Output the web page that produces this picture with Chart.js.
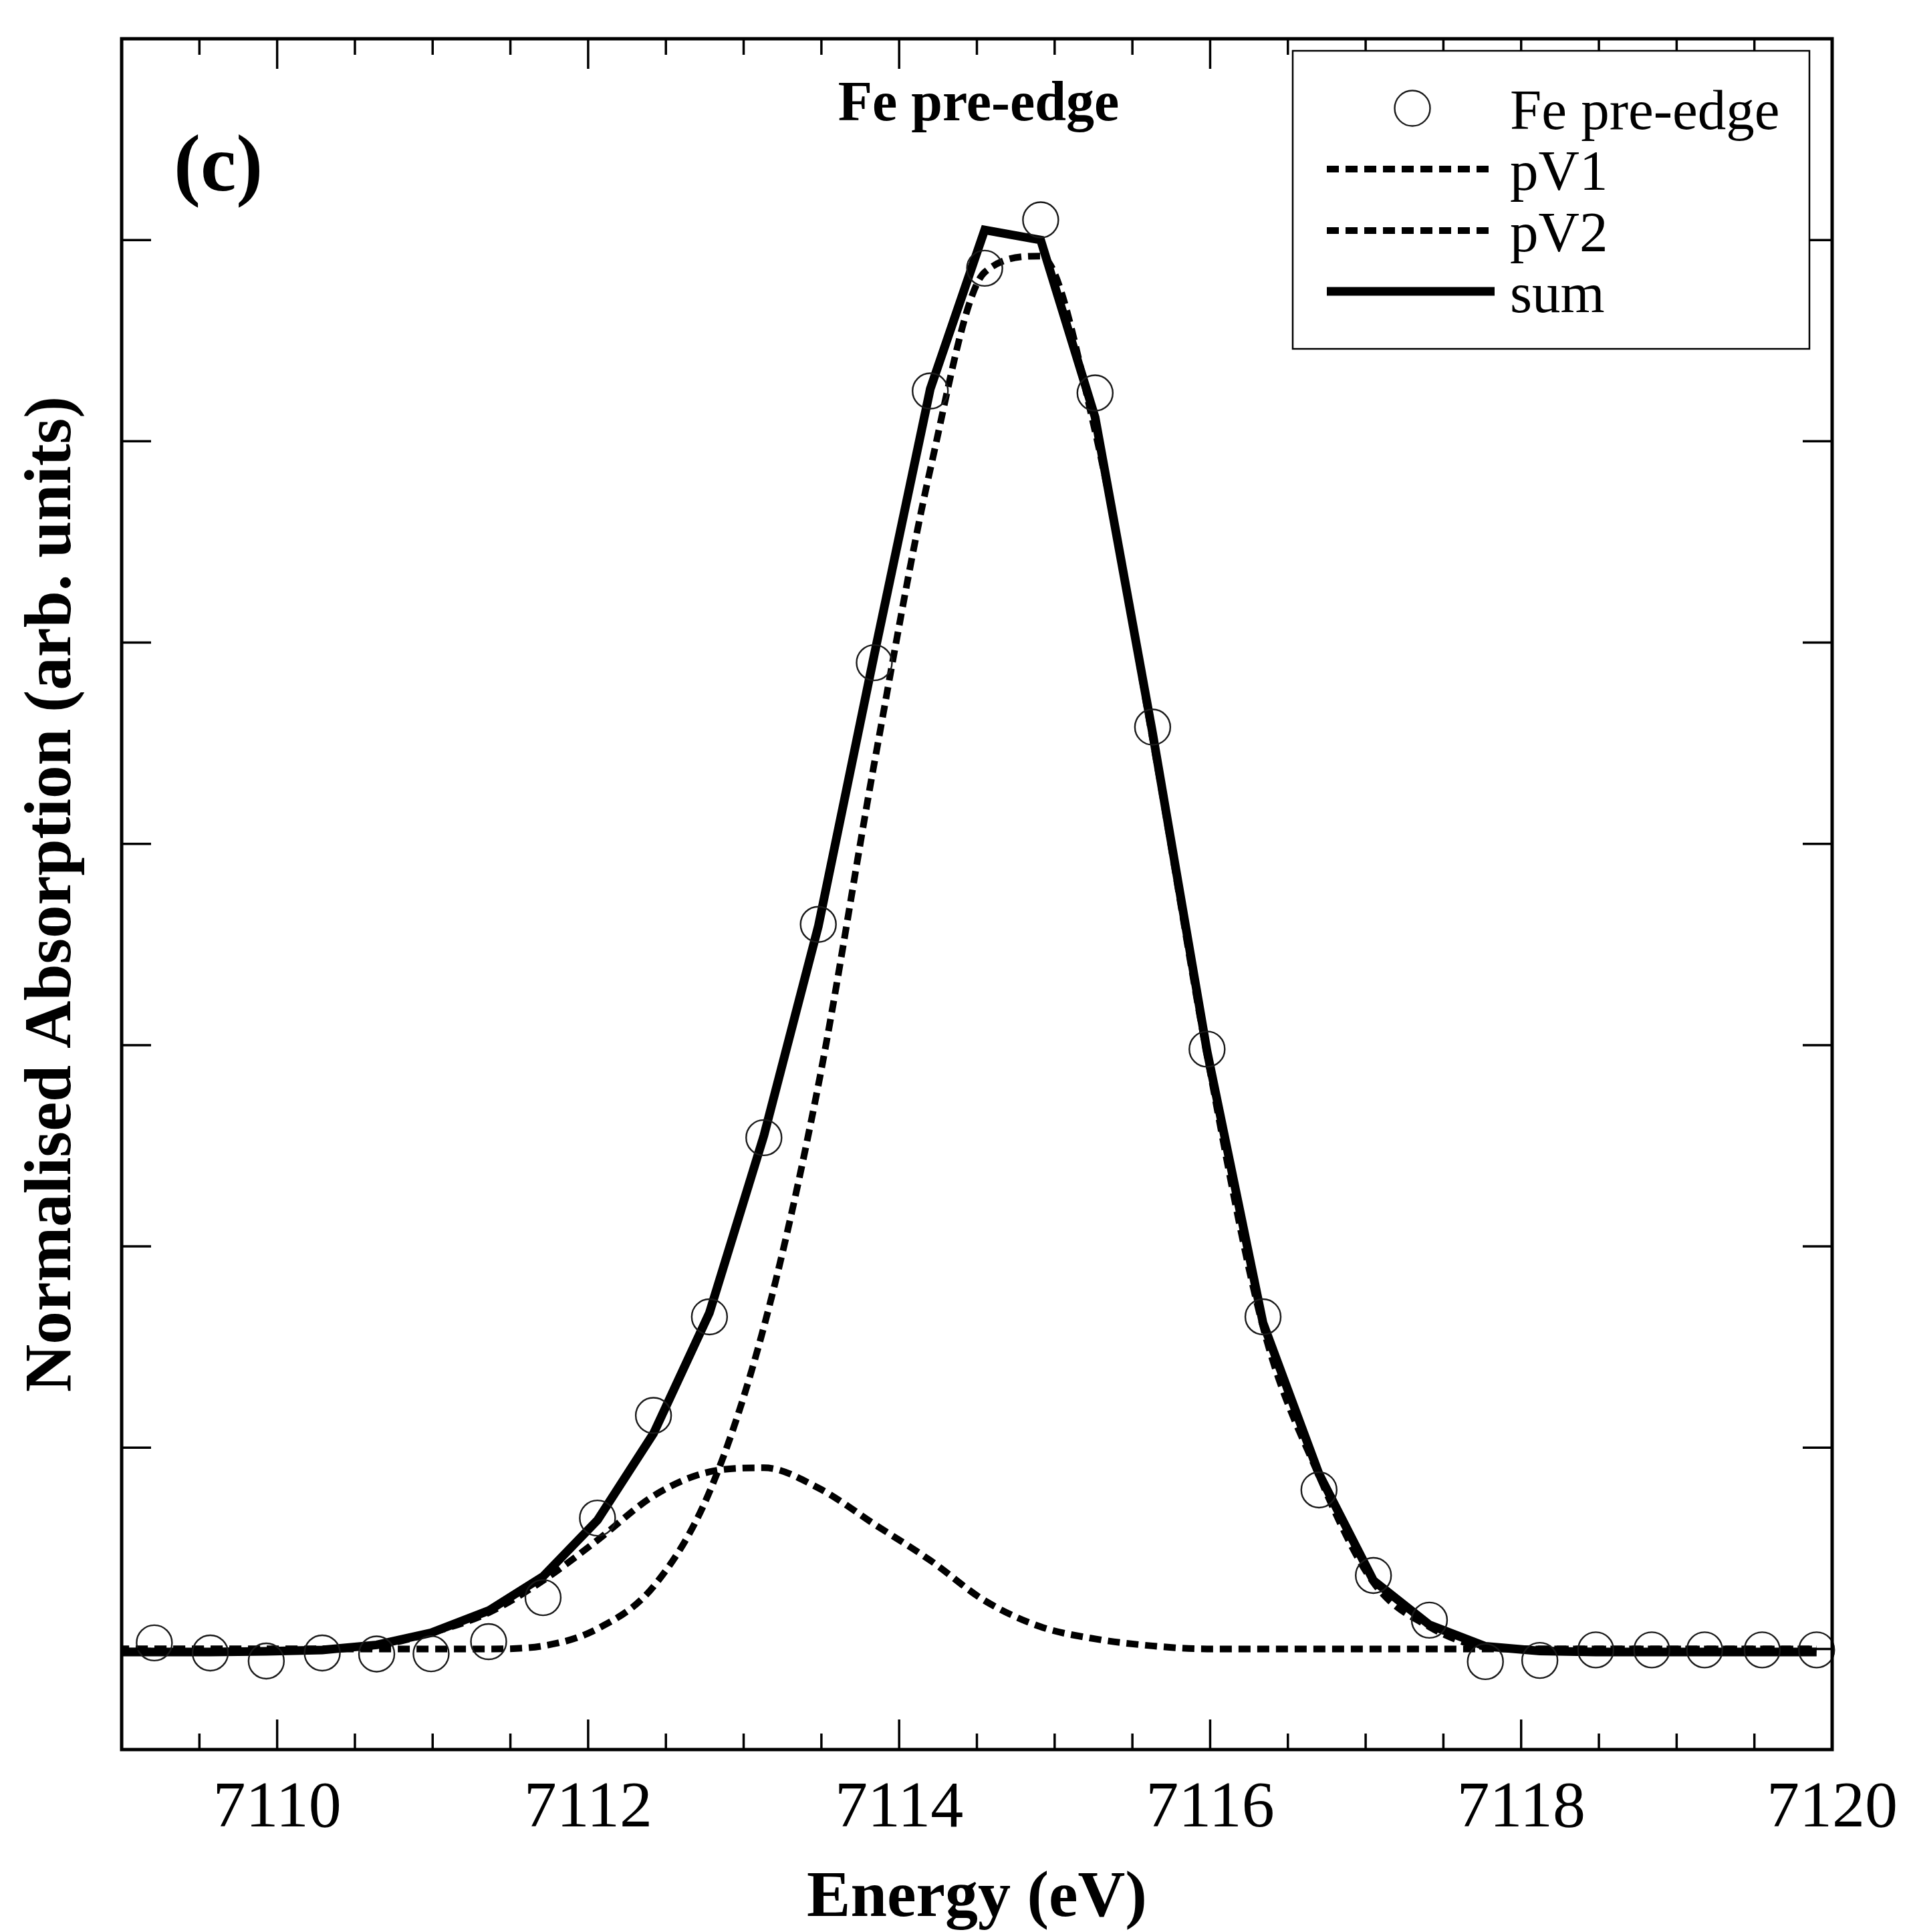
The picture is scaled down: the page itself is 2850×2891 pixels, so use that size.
<!DOCTYPE html>
<html>
<head>
<meta charset="utf-8">
<style>
html,body{margin:0;padding:0;background:#fff;overflow:hidden}
canvas{display:block}
</style>
<script src="https://cdn.jsdelivr.net/npm/chart.js"></script>
</head>
<body>
<canvas id="chart" width="2850" height="2891"></canvas>
<script>
// ---------------- data ----------------
const energy = [7109.21, 7109.57, 7109.93, 7110.29, 7110.64, 7110.99, 7111.36, 7111.71,
  7112.06, 7112.42, 7112.78, 7113.13, 7113.48, 7113.84, 7114.20, 7114.55, 7114.91,
  7115.26, 7115.63, 7115.98, 7116.34, 7116.70, 7117.05, 7117.41, 7117.77, 7118.12,
  7118.48, 7118.84, 7119.18, 7119.55, 7119.90];
const feData = [0.03, -0.02, -0.06, -0.02, -0.025, -0.024, 0.036, 0.255,
  0.65, 1.16, 1.65, 2.54, 3.60, 4.90, 6.25, 6.86, 7.10,
  6.24, 4.58, 2.98, 1.65, 0.79, 0.365, 0.143, -0.063, -0.057,
  -0.005, -0.005, -0.005, -0.005, -0.005];

const fitEnergy = [7108.85, 7109.21, 7109.57, 7109.93, 7110.29, 7110.64, 7110.99, 7111.36, 7111.71,
  7112.06, 7112.42, 7112.78, 7113.13, 7113.48, 7113.84, 7114.20, 7114.55, 7114.91,
  7115.26, 7115.63, 7115.98, 7116.34, 7116.70, 7117.05, 7117.41, 7117.77, 7118.12,
  7118.48, 7118.84, 7119.18, 7119.55, 7119.90];
const pV1 = [0, 0, 0, 0, 0, 0, 0, 0, 0.015,
  0.10, 0.31, 0.78, 1.60, 2.80, 4.40, 5.86, 6.84, 6.92,
  6.05, 4.52, 2.95, 1.60, 0.86, 0.33, 0.11, 0.01, 0,
  0, 0, 0, 0, 0];
const pV2 = [0, 0, 0, 0, 0, 0.015, 0.08, 0.18, 0.34,
  0.54, 0.76, 0.88, 0.90, 0.80, 0.62, 0.44, 0.24, 0.11,
  0.05, 0.015, 0, 0, 0, 0, 0, 0, 0,
  0, 0, 0, 0, 0];
const sumFit = [-0.015, -0.015, -0.015, -0.012, -0.005, 0.02, 0.08, 0.19, 0.36,
  0.64, 1.07, 1.67, 2.55, 3.59, 4.94, 6.26, 7.05, 7.00,
  6.12, 4.55, 2.97, 1.62, 0.87, 0.34, 0.12, 0.013, -0.01,
  -0.015, -0.015, -0.015, -0.015, -0.015];

const xTickLabels = ['7110', '7112', '7114', '7116', '7118', '7120'];
const seriesLabels = ['Fe pre-edge', 'pV1', 'pV2', 'sum'];
const xTitle = 'Energy (eV)';
const yTitle = 'Normalised Absorption (arb. units)';
const panelTitle = 'Fe pre-edge';
const panelTag = '(c)';

// ---------------- styling ----------------
const SERIF = '"Liberation Serif", "Times New Roman", Times, serif';

function pts(xs, ys) { return xs.map((x, i) => ({ x: x, y: ys[i] })); }

const framePlugin = {
  id: 'frameTicks',
  afterDatasetsDraw(chart) {
    const ctx = chart.ctx, ca = chart.chartArea;
    const xs = chart.scales.x, ys = chart.scales.y;
    ctx.save();
    ctx.strokeStyle = '#000';
    ctx.lineWidth = 3.5;
    ctx.beginPath();
    xs.ticks.forEach(t => {
      const px = xs.getPixelForValue(t.value);
      const major = t.label !== '' && t.label !== undefined;
      const len = major ? 45 : 24;
      ctx.moveTo(px, ca.bottom); ctx.lineTo(px, ca.bottom - len);
      ctx.moveTo(px, ca.top); ctx.lineTo(px, ca.top + len);
    });
    ys.ticks.forEach(t => {
      const py = ys.getPixelForValue(t.value);
      ctx.moveTo(ca.left, py); ctx.lineTo(ca.left + 44, py);
      ctx.moveTo(ca.right, py); ctx.lineTo(ca.right - 44, py);
    });
    ctx.stroke();
    ctx.lineWidth = 5;
    ctx.strokeRect(ca.left, ca.top, ca.right - ca.left, ca.bottom - ca.top);
    ctx.restore();
  }
};

const annotatePlugin = {
  id: 'annotate',
  afterDraw(chart) {
    const ctx = chart.ctx;
    ctx.save();
    ctx.fillStyle = '#000';
    ctx.textBaseline = 'alphabetic';
    ctx.font = 'bold 84px ' + SERIF;
    ctx.textAlign = 'center';
    ctx.fillText(panelTitle, 1464, 180);
    ctx.font = 'bold 120px ' + SERIF;
    ctx.textAlign = 'left';
    ctx.fillText(panelTag, 260, 285);

    // legend box
    const bx = 1934, by = 76, bw = 773, bh = 446;
    ctx.fillStyle = '#fff';
    ctx.fillRect(bx, by, bw, bh);
    ctx.strokeStyle = '#000';
    ctx.lineWidth = 2.5;
    ctx.strokeRect(bx, by, bw, bh);
    const rows = [193, 284, 376, 467];
    chart.data.datasets.forEach((ds, i) => {
      const base = rows[i], cy = base - 31;
      ctx.save();
      if (ds.showLine === false) {
        ctx.beginPath();
        ctx.arc(2113, cy, ds.pointRadius, 0, Math.PI * 2);
        ctx.lineWidth = ds.pointBorderWidth;
        ctx.strokeStyle = ds.pointBorderColor;
        ctx.stroke();
      } else {
        ctx.beginPath();
        ctx.setLineDash(ds.borderDash || []);
        ctx.lineWidth = ds.borderWidth;
        ctx.strokeStyle = ds.borderColor;
        ctx.lineCap = 'butt';
        ctx.moveTo(1985, cy);
        ctx.lineTo(2236, cy);
        ctx.stroke();
      }
      ctx.restore();
      ctx.fillStyle = '#000';
      ctx.font = '85px ' + SERIF;
      ctx.textAlign = 'left';
      ctx.fillText(ds.label, 2259, base);
    });
    ctx.restore();
  }
};

const lineCommon = {
  showLine: true, pointRadius: 0, pointHoverRadius: 0, borderColor: '#000',
  backgroundColor: '#000', fill: false, borderCapStyle: 'butt', clip: 0
};

new Chart(document.getElementById('chart'), {
  type: 'line',
  data: {
    datasets: [
      { label: seriesLabels[0], data: pts(energy, feData), showLine: false,
        pointStyle: 'circle', pointRadius: 26.5, pointHoverRadius: 26.5,
        pointBorderWidth: 2.4, pointBorderColor: '#1a1a1a',
        pointBackgroundColor: 'rgba(0,0,0,0)', borderColor: '#1a1a1a', clip: false },
      Object.assign({ label: seriesLabels[1], data: pts(fitEnergy, pV1),
        borderWidth: 10, borderDash: [18, 10], cubicInterpolationMode: 'monotone' }, lineCommon),
      Object.assign({ label: seriesLabels[2], data: pts(fitEnergy, pV2),
        borderWidth: 10, borderDash: [18, 10], cubicInterpolationMode: 'monotone' }, lineCommon),
      Object.assign({ label: seriesLabels[3], data: pts(fitEnergy, sumFit),
        borderWidth: 13, borderJoinStyle: 'miter', tension: 0 }, lineCommon)
    ]
  },
  options: {
    responsive: false,
    devicePixelRatio: 1,
    animation: false,
    events: [],
    layout: { padding: { top: 58, right: 109, bottom: 0, left: 0 } },
    plugins: { legend: { display: false }, tooltip: { enabled: false }, title: { display: false } },
    scales: {
      x: {
        type: 'linear', position: 'bottom', min: 7109, max: 7120,
        grid: { display: false }, border: { display: false },
        ticks: {
          stepSize: 0.5, autoSkip: false, maxRotation: 0, minRotation: 0,
          padding: 22, color: '#000',
          font: { family: SERIF, size: 98 },
          callback: (v) => { const s = String(Math.round(v * 2) / 2); return xTickLabels.includes(s) ? s : ''; }
        },
        title: { display: true, text: xTitle, color: '#000',
          font: { family: SERIF, size: 98, weight: 'bold', lineHeight: 1 }, padding: { top: 0, bottom: 0 } },
        afterFit: (s) => { s.height = 273; s.paddingLeft = 0; s.paddingRight = 0; }
      },
      y: {
        type: 'linear', position: 'left', min: -0.5, max: 8,
        grid: { display: false }, border: { display: false },
        ticks: { stepSize: 1, display: false },
        afterBuildTicks: (s) => { s.ticks = s.ticks.filter(t => Number.isInteger(t.value)); },
        title: { display: true, text: yTitle, color: '#000',
          font: { family: SERIF, size: 99, weight: 'bold', lineHeight: 1.2 }, padding: { top: 20, bottom: 0 } },
        afterFit: (s) => { s.width = 182; s.paddingTop = 0; s.paddingBottom = 0; }
      }
    }
  },
  plugins: [framePlugin, annotatePlugin]
});
</script>
</body>
</html>
